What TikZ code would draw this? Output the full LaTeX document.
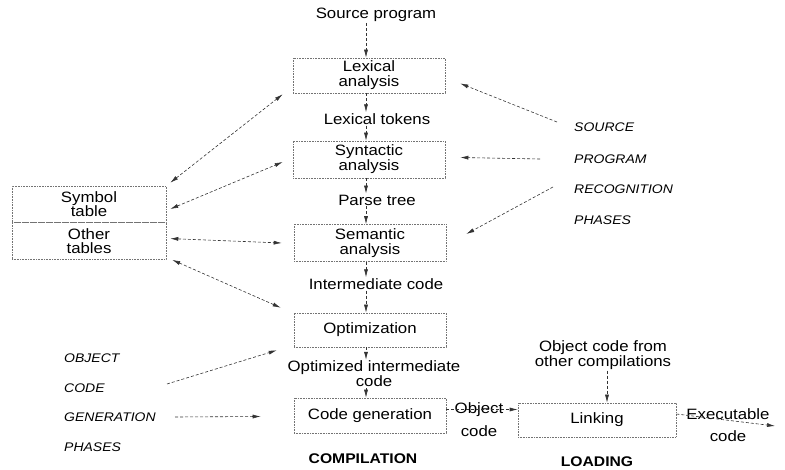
\documentclass[tikz,border=0pt]{standalone}
\usepackage{fontspec}
\setmainfont{Liberation Sans}[FakeStretch=1.12]
\usetikzlibrary{arrows.meta}
\begin{document}
\begin{tikzpicture}[x=1pt,y=-1pt,
  every node/.style={font=\fontsize{15}{15}\selectfont, inner sep=1pt},
  box/.style={draw=black!55, densely dotted, line width=0.6pt, minimum width=152pt, minimum height=35pt, align=center},
  arr/.style={draw=black!80, line width=0.6pt, dash pattern=on 3pt off 2pt, -{Latex[length=8pt,width=4pt]}},
  barr/.style={arr, {Latex[length=8pt,width=4pt]}-{Latex[length=8pt,width=4pt]}},
  phase/.style={font=\fontsize{12.5}{12.5}\selectfont\itshape, anchor=west},
  head/.style={font=\fontsize{14}{14}\selectfont\bfseries}]
\useasboundingbox (0,0) rectangle (785,470);
\coordinate (ax) at (366,0);
\coordinate (bx) at (607,0);
% main column
\node (src) at (376,15) {Source program};
\node[box] (lex) at (369,75.5) {Lexical\\analysis};
\node (tok) at (377,119) {Lexical tokens};
\node[box, minimum height=37pt] (syn) at (369,159.5) {Syntactic\\analysis};
\node (pt) at (377,200) {Parse tree};
\node[box, minimum height=37pt] (sem) at (370,243) {Semantic\\analysis};
\node (ic) at (376,284) {Intermediate code};
\node[box, minimum height=34pt] (opt) at (370,330) {Optimization};
\node[align=center, font=\fontsize{15}{12}\selectfont] (oic) at (374,374) {Optimized intermediate\\code};
\node[box] (cg) at (370,415.5) {Code generation};
\node[head] (comp) at (363,459) {COMPILATION};
% loading
\node[box, minimum width=158pt, minimum height=34pt] (lnk) at (597,420) {Linking};
\node[head] (load) at (597,462) {LOADING};
\node[align=center] (oc) at (479,420) {Object\\[8pt]code};
\node[align=center] (ocf) at (603,355) {Object code from\\other compilations};
\node[align=center] (ex) at (728,425) {Executable\\[7pt]code};
% tables
\node[box, minimum width=154pt, minimum height=36pt, font=\fontsize{15}{14}\selectfont] (sym) at (89,204) {Symbol\\table};
\node[box, minimum width=154pt, minimum height=37pt, anchor=north, font=\fontsize{15}{14}\selectfont] (oth) at (sym.south) {Other\\tables};
% phase labels
\node[phase] (p1) at (573,127) {SOURCE};
\node[phase] (p2) at (573,159) {PROGRAM};
\node[phase] (p3) at (573,189) {RECOGNITION};
\node[phase] (p4) at (573,220) {PHASES};
\node[phase] (q1) at (63,358) {OBJECT};
\node[phase] (q2) at (63,388) {CODE};
\node[phase] (q3) at (63,417) {GENERATION};
\node[phase] (q4) at (63,447) {PHASES};
% vertical flow
\draw[arr] (src.south -| ax) -- (lex.north -| ax);
\draw[arr] (lex.south -| ax) -- (tok.north -| ax);
\draw[arr] (tok.south -| ax) -- (syn.north -| ax);
\draw[arr] (syn.south -| ax) -- (pt.north -| ax);
\draw[arr] (pt.south -| ax) -- (sem.north -| ax);
\draw[arr] (sem.south -| ax) -- (ic.north -| ax);
\draw[arr] (ic.south -| ax) -- (opt.north -| ax);
\draw[arr] (opt.south -| ax) -- (oic.north -| ax);
\draw[arr] (oic.south -| ax) -- (cg.north -| ax);
% tables links
\draw[barr] ([shift={(4,-3)}]sym.north east) -- ([shift={(-10,1)}]lex.south west);
\draw[barr] ([shift={(4,5)}]sym.east) -- ([shift={(-10,2.5)}]syn.west);
\draw[barr] ([shift={(4,-2.5)}]oth.east) -- ([shift={(-12,0)}]sem.west);
\draw[barr] ([shift={(6,0)}]oth.south east) -- ([shift={(-13,-5)}]opt.north west);
% right phase arrows
\coordinate (r1) at (557,122);
\coordinate (r2) at (540,159);
\coordinate (r3) at (553,187);
\draw[arr] (r1) -- ([shift={(15,8)}]lex.east);
\draw[arr] (r2) -- ([shift={(15,-2)}]syn.east);
\draw[arr] (r3) -- ([shift={(20,-9)}]sem.east);
% left phase arrows
\coordinate (l1) at (167,384);
\coordinate (l2) at (175,417);
\draw[arr] (l1) -- ([shift={(-17,3)}]opt.south west);
\draw[arr] (l2) -- ([shift={(-33,1)}]cg.west);
% loading
\draw[arr] ([yshift=6]cg.east) -- ([yshift=6]cg.east -| lnk.west);
\draw[arr] (ocf.south -| bx) -- (lnk.north -| bx);
\coordinate (exend) at (775,426);
\draw[arr] ([yshift=6]lnk.east) -- (exend);
\end{tikzpicture}
\end{document}
